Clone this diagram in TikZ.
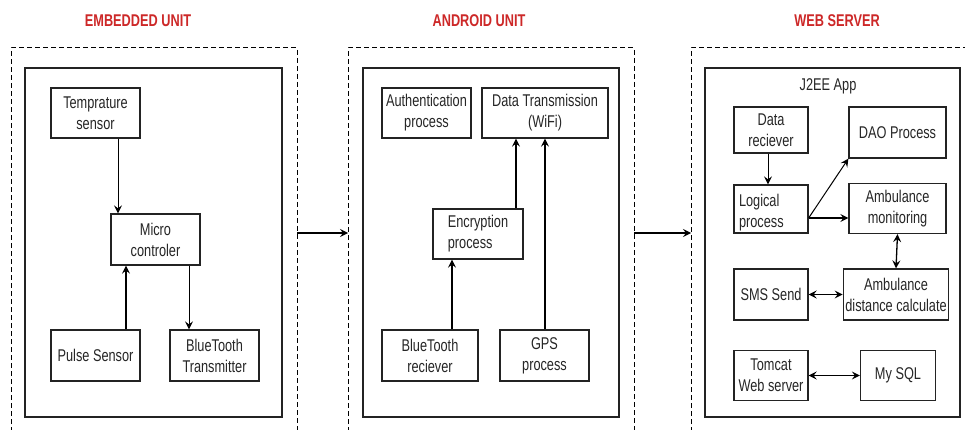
\documentclass[tikz,border=0pt]{standalone}
\usepackage{fontspec}
\setmainfont[FakeStretch=0.75]{Liberation Sans}
\usetikzlibrary{arrows.meta}
\definecolor{titlered}{RGB}{205,40,40}
\definecolor{boxline}{RGB}{35,35,35}
\tikzset{
  blk/.style={draw=boxline, line width=1.3pt, fill=white, align=center, inner sep=2pt,
    text=black!85, font=\fontsize{17}{21}\selectfont},
  frame/.style={draw=boxline, line width=1.2pt},
  dframe/.style={draw=black, line width=1pt, dash pattern=on 5pt off 3pt},
  ttl/.style={font=\fontsize{17}{20}\selectfont\bfseries, text=titlered},
  arr/.style={line width=1.3pt, -{Stealth[length=8pt,width=8pt,inset=3pt]}},
  darr/.style={line width=1.3pt, {Stealth[length=8pt,width=8pt,inset=3pt]}-{Stealth[length=8pt,width=8pt,inset=3pt]}},
  tarr/.style={line width=1pt, -{Stealth[length=8pt,width=8pt,inset=3pt]}},
}
\begin{document}
\begin{tikzpicture}[x=1pt,y=-1pt]
\clip (0,0) rectangle (965,430);
\fill[white] (0,0) rectangle (965,430);

% titles
\node[ttl] (t1) at (138,21) {EMBEDDED UNIT};
\node[ttl] (t2) at (479,21) {ANDROID UNIT};
\node[ttl] (t3) at (837,21) {WEB SERVER};

% dashed unit frames (open at bottom / right, clipped)
\draw[dframe] (11,440) -- (11,48) -- (297,48) -- (297,440);
\draw[dframe] (348,440) -- (348,48) -- (634,48) -- (634,440);
\draw[dframe] (691,440) -- (691,48) -- (975,48);

% inner frames
\draw[frame] (25,68) rectangle (282,417);
\draw[frame] (363,68) rectangle (619,417);
\draw[frame] (705,68) rectangle (960,417);

% embedded unit
\node[blk, minimum width=89pt, minimum height=50pt] (temp) at (95.5,113) {Temprature\\sensor};
\node[blk, minimum width=89pt, minimum height=51pt] (micro) at (155.5,239.5) {Micro\\controler};
\node[blk, minimum width=89pt, minimum height=51pt] (pulse) at (95.5,355.5) {Pulse Sensor};
\node[blk, minimum width=89pt, minimum height=51pt] (bttx) at (214.5,355.5) {BlueTooth\\Transmitter};

\draw[tarr] ([xshift=22.5pt]temp.south) -- ([xshift=-37.5pt]micro.north);
\draw[arr] ([xshift=30.5pt]pulse.north) -- ([xshift=-29.5pt]micro.south);
\draw[tarr] ([xshift=33.5pt]micro.south) -- ([xshift=-25.5pt]bttx.north);

% android unit
\node[blk, minimum width=89pt, minimum height=50pt] (auth) at (426.5,113) {Authentication\\process};
\node[blk, minimum width=126pt, minimum height=50pt] (data) at (545,113) {Data Transmission\\(WiFi)};
\node[blk, minimum width=90pt, minimum height=50pt, align=left] (enc) at (478,234) {Encryption\\process};
\node[blk, minimum width=96pt, minimum height=51pt] (btrx) at (430,355.5) {BlueTooth\\reciever};
\node[blk, minimum width=89pt, minimum height=51pt] (gps) at (544.5,355.5) {GPS\\process};

\draw[arr] ([xshift=22pt]btrx.north) -- ([xshift=-26pt]enc.south);
\draw[arr] ([xshift=38pt]enc.north) -- ([xshift=-29pt]data.south);
\draw[arr] ([xshift=0.5pt]gps.north) -- (data.south);

% web server
\node[font=\fontsize{17}{20}\selectfont, text=black!85] (j2ee) at (828,86) {J2EE App};
\node[blk, minimum width=74pt, minimum height=46pt] (drx) at (771,130) {Data\\reciever};
\node[blk, minimum width=97pt, minimum height=51pt] (dao) at (897.5,132.5) {DAO Process};
\node[blk, minimum width=74pt, minimum height=48pt, align=left, text width=64pt] (logic) at (771,209)
  {\raisebox{-4pt}[\height][\depth]{\begin{tabular}{@{}l@{}}Logical\\process\end{tabular}}};
\node[blk, minimum width=97pt, minimum height=50pt] (ambm) at (897.5,208.5) {Ambulance\\monitoring};
\node[blk, minimum width=105pt, minimum height=51pt] (ambd) at (896,294.5) {Ambulance\\distance calculate};
\node[blk, minimum width=74pt, minimum height=51pt] (sms) at (771,294.5) {SMS Send};
\node[blk, minimum width=74pt, minimum height=50pt] (tomcat) at (771,375.5) {Tomcat\\Web server};
\node[blk, minimum width=75pt, minimum height=50pt] (mysql) at (898,375.5) {My SQL};

\draw[tarr] ([xshift=-3pt]drx.south) -- ([xshift=-3pt]logic.north);
\coordinate (lp) at ([yshift=-9pt]logic.east);
\draw[tarr] (lp) -- (dao.south west);
\draw[arr] (lp) -- (lp -| ambm.west);
\draw[darr] (ambm.south) -- (ambd.north);
\draw[darr] (sms.east) -- (ambd.west);
\draw[darr] (tomcat.east) -- (mysql.west);

% inter-unit arrows
\coordinate (e1) at (297,233);
\coordinate (a1) at (348,233);
\coordinate (e2) at (634,233);
\coordinate (a2) at (691,233);
\draw[arr] (e1) -- (a1);
\draw[arr] (e2) -- (a2);
\end{tikzpicture}
\end{document}
